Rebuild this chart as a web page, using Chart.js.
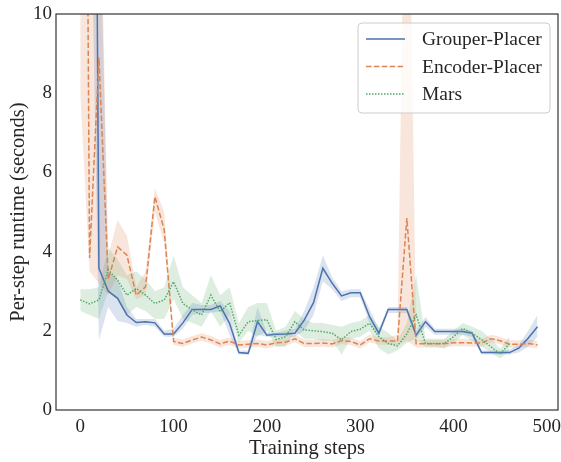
<!DOCTYPE html>
<html>
<head>
<meta charset="utf-8">
<script src="https://cdn.jsdelivr.net/npm/chart.js@4.4.1/dist/chart.umd.min.js"></script>
<style>
  html, body { margin: 0; padding: 0; background: #fff; }
  #wrap { width: 561px; height: 462px; }
</style>
</head>
<body>
<div id="wrap"><canvas id="runtimeChart"></canvas></div>
<script>
// training steps (x)
const steps = [0, 10, 20, 30, 40, 50, 60, 70, 80, 90,
  100, 110, 120, 130, 140, 150, 160, 170, 180, 190,
  200, 210, 220, 230, 240, 250, 260, 270, 280, 290,
  300, 310, 320, 330, 340, 350, 360, 370, 380, 390,
  400, 410, 420, 430, 440, 450, 460, 470, 480, 490];

const xTicks = [0, 100, 200, 300, 400, 500];
const yTicks = [0, 2, 4, 6, 8, 10];

// Grouper-Placer mean and band
const grouper = [40, 40, 3.58, 3.0, 2.82, 2.4, 2.21, 2.23, 2.2, 1.92,
  1.92, 2.2, 2.54, 2.54, 2.54, 2.63, 2.19, 1.45, 1.43, 2.23,
  1.89, 1.91, 1.92, 1.94, 2.27, 2.71, 3.58, 3.2, 2.88, 2.96,
  2.96, 2.36, 1.94, 2.54, 2.54, 2.54, 1.89, 2.23, 1.98, 1.98,
  1.98, 1.98, 1.94, 1.45, 1.45, 1.45, 1.45, 1.56, 1.81, 2.1];
const grouperLow = [30, 15, 1.77, 2.6, 2.25, 2.2, 2.1, 2.15, 2.1, 1.85,
  1.85, 2.05, 2.4, 2.45, 2.45, 2.5, 1.9, 1.4, 1.4, 1.9,
  1.85, 1.85, 1.85, 1.85, 2.0, 2.4, 3.25, 3.05, 2.75, 2.85,
  2.85, 2.2, 1.85, 2.45, 2.45, 2.45, 1.8, 2.1, 1.9, 1.9,
  1.9, 1.9, 1.85, 1.4, 1.4, 1.4, 1.4, 1.45, 1.6, 1.85];
const grouperHigh = [50, 50, 14, 3.5, 3.3, 2.6, 2.3, 2.3, 2.3, 2.0,
  2.05, 2.4, 2.7, 2.65, 2.65, 2.75, 2.5, 1.5, 1.5, 2.6,
  1.95, 1.95, 2.0, 2.05, 2.5, 3.1, 3.9, 3.35, 3.0, 3.05,
  3.05, 2.55, 2.05, 2.6, 2.6, 2.6, 2.0, 2.35, 2.05, 2.05,
  2.05, 2.05, 2.0, 1.5, 1.5, 1.5, 1.52, 1.65, 2.0, 2.4];

// Encoder-Placer mean and band
const encoder = [40, 3.84, 8.9, 3.3, 4.12, 3.91, 2.9, 3.11, 5.39, 4.55,
  1.73, 1.68, 1.77, 1.84, 1.77, 1.67, 1.74, 1.64, 1.66, 1.68,
  1.64, 1.7, 1.71, 1.8, 1.68, 1.68, 1.69, 1.67, 1.75, 1.73,
  1.64, 1.8, 1.74, 1.74, 1.74, 4.85, 1.67, 1.67, 1.67, 1.67,
  1.7, 1.7, 1.69, 1.69, 1.8, 1.75, 1.66, 1.66, 1.68, 1.64];
const encoderLow = [8, 3.5, 3.2, 2.9, 3.4, 3.3, 2.8, 2.9, 5.0, 4.2,
  1.64, 1.6, 1.68, 1.75, 1.68, 1.58, 1.65, 1.55, 1.57, 1.59,
  1.55, 1.61, 1.62, 1.71, 1.59, 1.59, 1.6, 1.58, 1.66, 1.64,
  1.55, 1.71, 1.65, 1.65, 1.65, 1.75, 1.58, 1.58, 1.58, 1.58,
  1.61, 1.61, 1.6, 1.6, 1.71, 1.66, 1.57, 1.57, 1.59, 1.55];
const encoderHigh = [20, 14, 15, 3.9, 4.8, 4.4, 3.1, 3.5, 5.6, 5.0,
  1.83, 1.78, 1.87, 1.94, 1.87, 1.77, 1.84, 1.74, 1.76, 1.78,
  1.74, 1.8, 1.81, 1.9, 1.78, 1.78, 1.79, 1.77, 1.85, 1.83,
  1.74, 1.9, 1.84, 1.84, 1.9, 18, 1.77, 1.77, 1.77, 1.77,
  1.8, 1.8, 1.79, 1.79, 1.9, 1.85, 1.76, 1.76, 1.78, 1.74];

// Mars mean and band (ends at step 460)
const mars = [2.78, 2.68, 2.78, 3.54, 3.28, 2.9, 3.07, 2.9, 2.69, 2.78,
  3.24, 2.69, 2.53, 2.4, 2.9, 2.48, 2.71, 1.89, 2.23, 2.26,
  2.28, 1.78, 1.85, 2.23, 2.02, 2.0, 1.98, 1.94, 1.77, 1.98,
  2.04, 2.19, 1.85, 1.68, 1.62, 1.92, 2.4, 1.68, 1.68, 1.68,
  1.85, 2.06, 1.94, 1.78, 1.6, 1.41, 1.68];
const marsLow = [2.5, 2.4, 2.3, 3.0, 2.8, 2.4, 2.6, 2.5, 2.3, 2.3,
  2.8, 2.3, 2.2, 2.1, 2.5, 2.1, 2.4, 1.7, 2.0, 1.85,
  2.0, 1.6, 1.6, 2.0, 1.8, 1.8, 1.75, 1.75, 1.4, 1.8,
  1.85, 2.0, 1.55, 1.4, 1.5, 1.7, 1.8, 1.6, 1.6, 1.55,
  1.7, 1.9, 1.75, 1.6, 1.45, 1.3, 1.5];
const marsHigh = [3.05, 3.05, 3.1, 4.1, 3.8, 3.4, 3.5, 3.3, 3.0, 3.1,
  3.9, 3.1, 2.9, 2.7, 3.4, 2.9, 3.1, 2.2, 2.6, 2.7,
  2.7, 2.0, 2.1, 2.5, 2.3, 2.2, 2.2, 2.15, 2.1, 2.2,
  2.25, 2.4, 2.1, 1.95, 1.75, 2.2, 3.4, 1.8, 1.8, 1.8,
  2.0, 2.2, 2.1, 2.0, 1.8, 1.55, 1.85];

const blue = "#4c72b0";
const orange = "#dd8452";
const green = "#55a868";
const serif = "'Liberation Serif', 'Times New Roman', serif";

function toPoints(values) {
  return values.map((v, i) => ({ x: steps[i], y: v }));
}

function band(low, high, fillColor) {
  return [
    { data: toPoints(low), borderWidth: 0, borderColor: "transparent", pointRadius: 0, fill: false, order: 3 },
    { data: toPoints(high), borderWidth: 0, borderColor: "transparent", pointRadius: 0, fill: "-1", backgroundColor: fillColor, order: 3 },
  ];
}

const legendItems = [
  { label: "Grouper-Placer", color: blue, dash: [] },
  { label: "Encoder-Placer", color: orange, dash: [5.5, 2.4] },
  { label: "Mars", color: green, dash: [1.5, 1.5] },
];

const frameAndLegend = {
  id: "frameAndLegend",
  afterDatasetsDraw(chart) {
    const { ctx, chartArea: a } = chart;
    ctx.save();
    ctx.strokeStyle = "#3c3c3c";
    ctx.lineWidth = 1.25;
    ctx.strokeRect(a.left, a.top, a.right - a.left, a.bottom - a.top);
    ctx.restore();
  },
  afterDraw(chart) {
    const { ctx, chartArea: a } = chart;
    const x = a.right - 200, y = a.top + 9, w = 192, h = 90, r = 4;
    ctx.save();
    ctx.beginPath();
    ctx.moveTo(x + r, y);
    ctx.arcTo(x + w, y, x + w, y + h, r);
    ctx.arcTo(x + w, y + h, x, y + h, r);
    ctx.arcTo(x, y + h, x, y, r);
    ctx.arcTo(x, y, x + w, y, r);
    ctx.closePath();
    ctx.fillStyle = "rgba(255,255,255,0.8)";
    ctx.fill();
    ctx.strokeStyle = "#cccccc";
    ctx.lineWidth = 1;
    ctx.stroke();
    ctx.font = "19.5px " + serif;
    ctx.textBaseline = "middle";
    legendItems.forEach((item, i) => {
      const ly = y + 16 + i * 27.5;
      ctx.beginPath();
      ctx.setLineDash(item.dash);
      ctx.strokeStyle = item.color;
      ctx.lineWidth = 1.5;
      ctx.moveTo(x + 8, ly);
      ctx.lineTo(x + 47, ly);
      ctx.stroke();
      ctx.setLineDash([]);
      ctx.fillStyle = "#262626";
      ctx.fillText(item.label, x + 64, ly + 1);
    });
    ctx.restore();
  },
};

const runtimeChart = new Chart(document.querySelector("#runtimeChart"), {
  type: "line",
  data: {
    datasets: [
      ...band(grouperLow, grouperHigh, "rgba(76,114,176,0.2)"),
      ...band(encoderLow, encoderHigh, "rgba(221,132,82,0.2)"),
      ...band(marsLow, marsHigh, "rgba(85,168,104,0.2)"),
      { label: "Grouper-Placer", data: toPoints(grouper), borderColor: blue, borderWidth: 1.5, pointRadius: 0, fill: false, order: 2 },
      { label: "Encoder-Placer", data: toPoints(encoder), borderColor: orange, borderWidth: 1.5, borderDash: [5.5, 2.4], pointRadius: 0, fill: false, order: 1 },
      { label: "Mars", data: toPoints(mars), borderColor: green, borderWidth: 1.5, borderDash: [1.5, 1.5], pointRadius: 0, fill: false, order: 0 },
    ],
  },
  options: {
    responsive: true,
    maintainAspectRatio: false,
    animation: false,
    layout: { padding: { left: 0, top: 14, right: 3, bottom: 0 } },
    plugins: {
      legend: { display: false },
      tooltip: { enabled: false },
    },
    scales: {
      x: {
        type: "linear",
        min: -26,
        max: 512,
        grid: { display: false, drawTicks: false },
        border: { display: false },
        afterBuildTicks(scale) {
          scale.ticks = xTicks.map((v) => ({ value: v }));
        },
        afterFit(scale) {
          scale.height = 52;
          scale.paddingLeft = 0;
          scale.paddingRight = 0;
        },
        ticks: { padding: 6, maxRotation: 0, color: "#262626", font: { family: serif, size: 19 } },
        title: {
          display: true,
          text: "Training steps",
          color: "#262626",
          padding: { top: 0, bottom: 1 },
          font: { family: serif, size: 20.5 },
        },
      },
      y: {
        min: 0,
        max: 10,
        grid: { display: false, drawTicks: false },
        border: { display: false },
        afterBuildTicks(scale) {
          scale.ticks = yTicks.map((v) => ({ value: v }));
        },
        afterFit(scale) {
          scale.width = 56;
          scale.paddingTop = 0;
          scale.paddingBottom = 0;
        },
        ticks: { padding: 4, color: "#262626", font: { family: serif, size: 19 } },
        title: {
          display: true,
          text: "Per-step runtime (seconds)",
          color: "#262626",
          padding: { top: 6, bottom: 0 },
          font: { family: serif, size: 20.5 },
        },
      },
    },
  },
  plugins: [frameAndLegend],
});
</script>
</body>
</html>
